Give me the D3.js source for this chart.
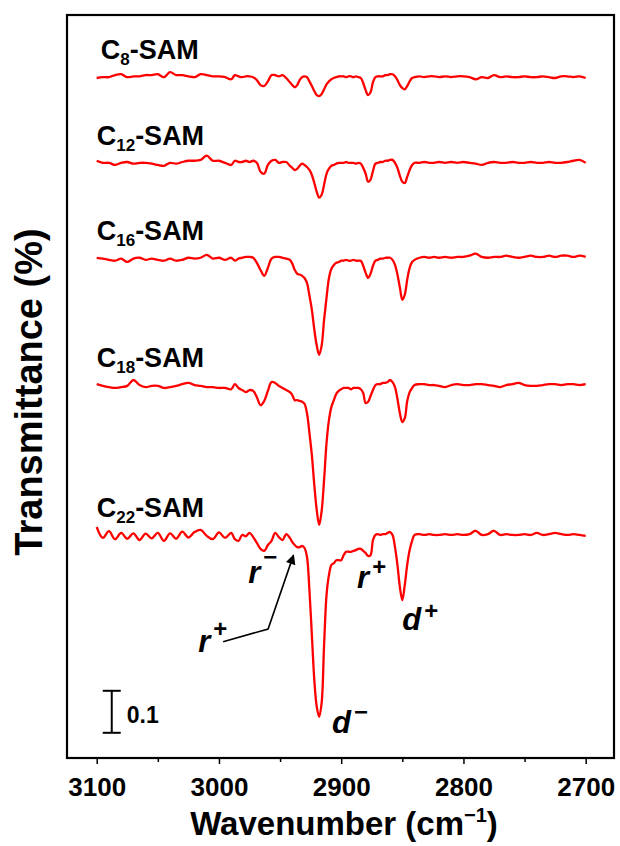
<!DOCTYPE html>
<html><head><meta charset="utf-8">
<script src="https://cdn.jsdelivr.net/npm/d3@7"></script>
<style>
body{margin:0;background:#fff}
svg{display:block}
text{font-family:"Liberation Sans",Arial,Helvetica,sans-serif;font-weight:bold;fill:#000}
</style>
</head><body>
<svg id="chart" width="620" height="846"></svg>
<script>
// Wavenumber grid (cm^-1)
const wavenumbers = [
3100,3095,3090,3085,3080,3075,3070,3065,3060,3055,3050,3045,3040,3035,3030,3025,3020,3015,3010,3005,3000,2995,2990,
2987,2984,2981,2978,2975,2972,2969,2966,2963,2960,2957,2954,2951,2948,2945,2942,
2940,2938,2936,2934,2932,2930,2928,2926,2924,2922,2920,2918,2916,2914,2912,2910,2908,2906,2904,2902,2900,2898,2896,2894,2892,2890,2888,2886,2884,2882,2880,2878,2876,2874,2872,2870,2868,2866,2864,2862,2860,2858,2856,2854,2852,2850,2848,2846,2844,2842,2840,
2836,2832,2828,2824,2820,
2815,2810,2805,2800,2795,2790,2785,2780,2775,2770,2765,2760,2755,2750,2745,2740,2735,2730,2725,2720,2715,2710,2705,2700];

// Transmittance change relative to each trace's baseline (units of 10^-3)
const c8 = [
-2,0,0,5,7,0,2,2,5,5,7,0,12,5,5,2,0,7,5,2,2,0,-5,
5,2,0,2,2,0,-7,-19,-21,-10,5,5,2,5,-2,-12,
-19,-24,-19,-7,0,2,0,-10,-21,-33,-43,-45,-40,-29,-17,-10,-5,-2,0,2,2,2,0,2,2,0,2,0,-2,-14,-31,-43,-36,-12,0,2,2,2,5,5,7,7,2,-7,-19,-26,-29,-21,-10,-2,0,
2,0,2,2,0,
2,0,2,2,0,-5,0,-2,5,0,2,0,0,2,0,0,2,0,-2,2,2,0,2,-2];
const c12 = [
5,0,0,-5,0,2,-2,0,0,-2,-5,-7,0,-2,2,5,5,7,17,5,5,0,-5,
5,2,2,5,2,5,0,-21,-26,-5,5,7,0,2,2,-7,
-12,-17,-14,-7,-2,-5,-10,-17,-29,-48,-69,-83,-76,-52,-26,-14,-7,-5,-2,0,0,0,2,0,0,0,-2,0,-2,-12,-26,-45,-40,-19,-2,0,2,2,5,5,7,7,0,-12,-31,-45,-48,-33,-17,-5,0,
0,2,0,0,2,
0,2,0,2,0,-2,-5,0,2,0,0,2,0,0,2,0,0,2,0,0,2,5,7,0];
const c16 = [
0,-2,-5,-7,-2,-10,-2,0,-5,-2,-5,-7,-2,-7,-5,0,-2,0,7,-2,0,-5,0,
-7,-2,0,2,2,0,-12,-29,-43,-24,-2,2,2,0,-2,-5,
-14,-29,-38,-40,-43,-48,-60,-90,-124,-171,-209,-231,-209,-148,-95,-48,-26,-17,-12,-10,-7,-7,-5,-7,-7,-5,-7,-7,-7,-19,-36,-48,-38,-19,-7,-5,-2,-2,0,0,0,-5,-17,-40,-71,-100,-88,-52,-24,-10,-5,
0,2,0,2,0,
2,0,2,2,5,10,2,0,2,2,5,2,0,2,5,2,2,5,2,5,5,2,5,2];
const c18 = [
2,-2,-5,-7,-5,-2,12,0,-5,-2,-2,-7,-5,-2,2,5,0,-2,-5,-5,-7,-7,-10,
2,-7,-12,-17,-12,-14,-29,-48,-38,-14,7,5,-2,-7,-12,-17,
-24,-36,-36,-38,-40,-45,-67,-114,-167,-238,-298,-333,-300,-226,-138,-83,-52,-36,-21,-14,-10,-7,-7,-7,-10,-7,-7,-7,-10,-19,-43,-40,-26,-12,0,2,2,5,5,7,12,7,-5,-33,-67,-88,-79,-38,-17,-7,0,
2,2,0,0,-2,
-5,0,2,0,0,2,2,0,-2,-5,0,2,5,0,-2,-2,0,2,2,0,2,2,0,2];
const c22 = [
19,-7,9,-10,5,-9,4,-12,3,-8,5,-14,4,-9,8,-6,7,12,-2,-10,6,-7,5,
-10,-14,0,-3,5,-5,-19,-33,-38,-24,-14,5,-5,-12,2,-7,
-17,-24,-29,-29,-26,-31,-52,-131,-238,-345,-409,-433,-400,-262,-143,-95,-71,-67,-60,-60,-60,-48,-40,-40,-40,-38,-36,-33,-33,-38,-43,-50,-48,-12,0,2,0,2,2,5,7,0,-29,-71,-124,-155,-119,-71,-36,-14,0,
2,0,2,0,0,
2,0,2,0,2,10,0,2,10,0,2,0,0,2,0,5,0,2,5,2,0,2,0,-2];

const seriesValues = [c8, c12, c16, c18, c22];
const seriesSubscripts = ["8", "12", "16", "18", "22"];
const seriesOffsets = [1.090, 0.886, 0.660, 0.357, 0.0]; // vertical stacking offsets (transmittance)
const xTicks = [3100, 3000, 2900, 2800, 2700];
const xMinorTicks = [3050, 2950, 2850, 2750];
const scaleBarValue = 0.1;

// ---------- drawing ----------
(function () {
const svg = d3.select("#chart");
const pL = 67, pR = 614, pT = 15, pB = 758;
const x = d3.scaleLinear().domain([3124.3, 2676.85]).range([pL, pR]);
const y = d3.scaleLinear().domain([-0.531, 1.238]).range([pB, pT]);

const line = d3.line()
  .x(d => x(d[0]))
  .y(d => y(d[1]))
  .curve(d3.curveCatmullRom.alpha(0.5));

seriesValues.forEach((vals, i) => {
  const pts = wavenumbers.map((w, j) => [w, seriesOffsets[i] + vals[j] / 1000]);
  svg.append("path")
    .attr("d", line(pts))
    .attr("fill", "none")
    .attr("stroke", "#ff0000")
    .attr("stroke-width", 2.3)
    .attr("stroke-linejoin", "round");
});

// series labels
seriesValues.forEach((vals, i) => {
  const t = svg.append("text")
    .attr("x", x(3100) + (i === 0 ? 4 : 0))
    .attr("y", y(seriesOffsets[i]) - 18)
    .attr("font-size", 27);
  t.append("tspan").text("C");
  t.append("tspan").attr("font-size", 17).attr("dy", 6).text(seriesSubscripts[i]);
  t.append("tspan").attr("dy", -6).text("-SAM");
});

// frame
svg.append("rect")
  .attr("x", pL).attr("y", pT)
  .attr("width", pR - pL).attr("height", pB - pT)
  .attr("fill", "none").attr("stroke", "#000").attr("stroke-width", 2.2);

// x axis
const gx = svg.append("g").attr("transform", `translate(0,${pB})`);
gx.call(d3.axisBottom(x).tickValues(xTicks).tickSize(6).tickPadding(14).tickFormat(d3.format("d")));
gx.select(".domain").remove();
gx.attr("font-size", 26).attr("font-family", "Liberation Sans, Arial, sans-serif").attr("font-weight", "bold");
gx.selectAll("line").attr("stroke-width", 1.5);
gx.selectAll("text").attr("fill", "#000");
const gm = svg.append("g").attr("transform", `translate(0,${pB})`);
gm.call(d3.axisBottom(x).tickValues(xMinorTicks).tickSize(4).tickFormat(""));
gm.select(".domain").remove();
gm.selectAll("line").attr("stroke-width", 1.5);

// axis titles
const xt = svg.append("text")
  .attr("x", 344).attr("y", 835)
  .attr("text-anchor", "middle").attr("font-size", 33);
xt.append("tspan").text("Wavenumber (cm");
xt.append("tspan").attr("font-size", 20).attr("dy", -13).text("\u22121");
xt.append("tspan").attr("dy", 13).text(")");

svg.append("text")
  .attr("transform", "translate(42,392) rotate(-90)")
  .attr("text-anchor", "middle").attr("font-size", 38)
  .text("Transmittance (%)");

// peak annotations
function annotate(base, sup, wn, t, supDy) {
  const el = svg.append("text")
    .attr("x", x(wn)).attr("y", y(t))
    .attr("font-size", 31);
  el.append("tspan").attr("font-style", "italic").text(base);
  el.append("tspan").attr("font-size", 24).attr("dx", 3).attr("dy", supDy).text(sup);
}
annotate("r", "\u2212", 2976, -0.114, -18);
annotate("r", "+", 3017, -0.279, -15);
annotate("r", "+", 2887, -0.126, -13);
annotate("d", "+", 2850, -0.226, -11);
annotate("d", "\u2212", 2907.5, -0.471, -13);

// arrow
svg.append("defs").append("marker")
  .attr("id", "ah").attr("viewBox", "0 0 10 10")
  .attr("refX", 9).attr("refY", 5)
  .attr("markerWidth", 13).attr("markerHeight", 10)
  .attr("markerUnits", "userSpaceOnUse").attr("orient", "auto")
  .append("path").attr("d", "M0,0 L10,5 L0,10 z").attr("fill", "#000");
const arrowPts = [[2996.6, -0.254], [2959.8, -0.224], [2939.0, -0.048]];
svg.append("path")
  .attr("d", d3.line().x(d => x(d[0])).y(d => y(d[1]))(arrowPts))
  .attr("fill", "none").attr("stroke", "#000").attr("stroke-width", 1.6)
  .attr("marker-end", "url(#ah)");

// scale bar
const sbx = x(3087.7), sbTop = y(-0.371), sbBot = y(-0.371 - scaleBarValue);
const sb = svg.append("g").attr("stroke", "#000").attr("stroke-width", 2);
sb.append("line").attr("x1", sbx).attr("x2", sbx).attr("y1", sbTop).attr("y2", sbBot);
sb.append("line").attr("x1", sbx - 9).attr("x2", sbx + 9).attr("y1", sbTop).attr("y2", sbTop);
sb.append("line").attr("x1", sbx - 9).attr("x2", sbx + 9).attr("y1", sbBot).attr("y2", sbBot);
svg.append("text").attr("x", sbx + 15).attr("y", 723).attr("font-size", 23).text(String(scaleBarValue));
})();
</script>
</body></html>
